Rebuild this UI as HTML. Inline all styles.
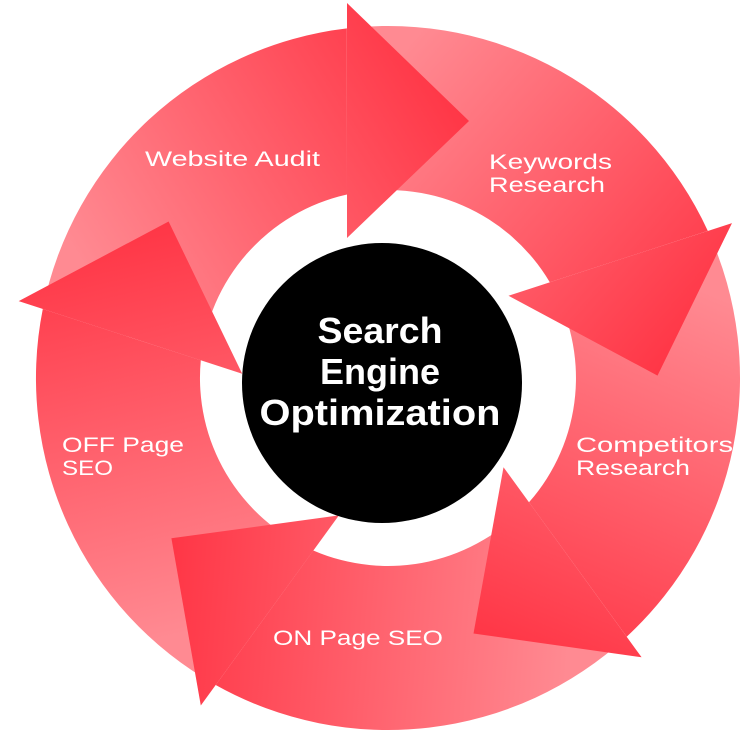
<!DOCTYPE html>
<html><head><meta charset="utf-8"><style>
html,body{margin:0;padding:0;background:#fff;width:750px;height:750px;overflow:hidden}
svg{display:block}
text{font-family:"Liberation Sans",sans-serif;fill:#fff}
</style></head><body>
<svg id="s" width="750" height="750" viewBox="0 0 750 750" xmlns="http://www.w3.org/2000/svg">
<defs id="d"></defs>
<g id="bodies"></g>
<g id="heads"></g>
<circle cx="382" cy="383" r="140" fill="#000"/>
<g font-weight="bold" font-size="36" text-anchor="middle">
<text x="380" y="343" textLength="125" lengthAdjust="spacingAndGlyphs">Search</text>
<text x="380" y="384" textLength="120" lengthAdjust="spacingAndGlyphs">Engine</text>
<text x="380" y="425" textLength="241" lengthAdjust="spacingAndGlyphs">Optimization</text>
</g>
<g font-size="21">
<text x="145" y="166" textLength="175" lengthAdjust="spacingAndGlyphs">Website Audit</text>
<text x="489" y="169" textLength="123" lengthAdjust="spacingAndGlyphs">Keywords</text>
<text x="489" y="192" textLength="116" lengthAdjust="spacingAndGlyphs">Research</text>
<text x="576" y="452" textLength="157" lengthAdjust="spacingAndGlyphs">Competitors</text>
<text x="576" y="475" textLength="114" lengthAdjust="spacingAndGlyphs">Research</text>
<text x="62" y="452" textLength="122" lengthAdjust="spacingAndGlyphs">OFF Page</text>
<text x="62" y="475" textLength="51" lengthAdjust="spacingAndGlyphs">SEO</text>
<text x="273" y="645" textLength="170" lengthAdjust="spacingAndGlyphs">ON Page SEO</text>
</g>
</svg>
<script>
var cx=388,cy=378,Ro=352,Ri=188,NS="http://www.w3.org/2000/svg";
function pol(r,a){a=a*Math.PI/180;return [cx+r*Math.sin(a),cy-r*Math.cos(a)];}
function rot(p,deg){var a=deg*Math.PI/180,dx=p[0]-cx,dy=p[1]-cy;return [cx+dx*Math.cos(a)-dy*Math.sin(a),cy+dx*Math.sin(a)+dy*Math.cos(a)];}
var T=[469,121],B1=[347,3],B2=[347,238];
var d=document.getElementById('d'),bg=document.getElementById('bodies'),hg=document.getElementById('heads');
function f(p){return p[0].toFixed(1)+","+p[1].toFixed(1);}
for(var k=0;k<5;k++){
 var o=k*72;
 var tailMid=pol(270,o-80),tip=rot(T,o);
 var g=document.createElementNS(NS,'linearGradient');
 g.setAttribute('id','g'+k);g.setAttribute('gradientUnits','userSpaceOnUse');
 g.setAttribute('x1',tailMid[0]);g.setAttribute('y1',tailMid[1]);
 g.setAttribute('x2',tip[0]);g.setAttribute('y2',tip[1]);
 g.innerHTML='<stop offset="0" stop-color="#ff8a92"/><stop offset="1" stop-color="#ff3646"/>';
 d.appendChild(g);
 var oa0=o-78.7,oa1=o-6.7,ia0=o-84.6,ia1=o-12.6;
 var p1=pol(Ro,oa0),p2=pol(Ro,oa1),p3=pol(Ri,ia1),p4=pol(Ri,ia0);
 var path=document.createElementNS(NS,'path');
 path.setAttribute('d','M'+f(p1)+' A'+Ro+','+Ro+' 0 0 1 '+f(p2)+' L'+f(p3)+' A'+Ri+','+Ri+' 0 0 0 '+f(p4)+' Z');
 path.setAttribute('fill','url(#g'+k+')');bg.appendChild(path);
 var h=document.createElementNS(NS,'polygon');
 h.setAttribute('points',f(rot(B1,o))+' '+f(tip)+' '+f(rot(B2,o)));
 h.setAttribute('fill','url(#g'+k+')');hg.appendChild(h);
}
</script>
</body></html>
